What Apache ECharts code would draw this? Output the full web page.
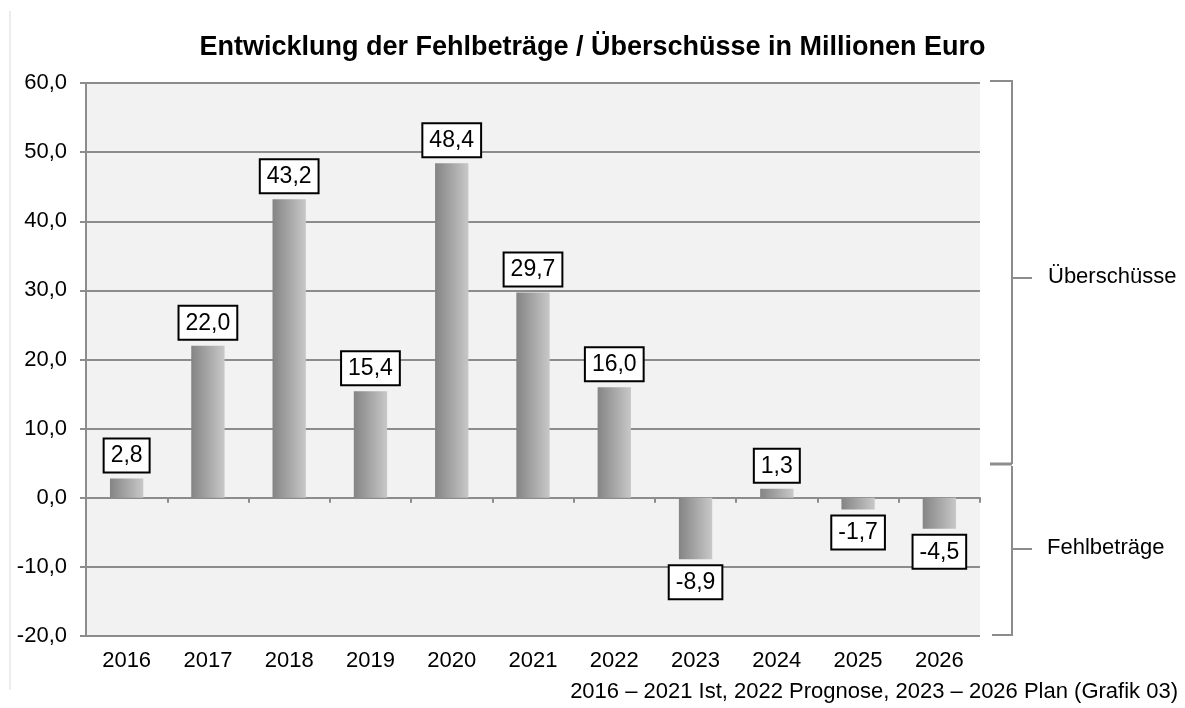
<!DOCTYPE html>
<html>
<head>
<meta charset="utf-8">
<script src="https://cdn.jsdelivr.net/npm/echarts@6/dist/echarts.min.js"></script>
<style>
  html, body { margin: 0; padding: 0; background: #fff; }
  #chart { width: 1185px; height: 708px; }
</style>
</head>
<body>
<div id="chart"></div>
<script>
const years = ['2016', '2017', '2018', '2019', '2020', '2021', '2022', '2023', '2024', '2025', '2026']
const saldo = [2.8, 22.0, 43.2, 15.4, 48.4, 29.7, 16.0, -8.9, 1.3, -1.7, -4.5]
const titleText = 'Entwicklung der Fehlbeträge / Überschüsse in Millionen Euro'
const footText = '2016 – 2021 Ist, 2022 Prognose, 2023 – 2026 Plan (Grafik 03)'

const fmt = v => v.toFixed(1).replace('.', ',')
const font = 'Liberation Sans, Arial, sans-serif'
const gridGray = '#8c8c8c'

const chart = echarts.init(document.getElementById('chart'))

const seriesData = saldo.map(v => ({
  value: v,
  label: { position: v >= 0 ? 'top' : 'bottom' }
}))

chart.setOption({
  backgroundColor: '#fff',
  animation: false,
  title: {
    text: titleText,
    left: 'center',
    top: 29,
    textStyle: { fontFamily: font, fontSize: 27, fontWeight: 'bold', color: '#000' }
  },
  grid: {
    left: 86,
    right: 205,
    top: 83,
    bottom: 72,
    show: true,
    backgroundColor: '#f2f2f2',
    borderWidth: 0
  },
  xAxis: [{
    // zero line with tick marks
    type: 'category',
    data: years,
    position: 'bottom',
    axisLine: { onZero: true, lineStyle: { color: gridGray, width: 2 } },
    axisTick: { show: true, length: 5, lineStyle: { color: gridGray, width: 2 } },
    axisLabel: { show: false }
  }, {
    // year labels at the bottom
    type: 'category',
    data: years,
    position: 'bottom',
    axisLine: { show: false, onZero: false },
    axisTick: { show: false },
    axisLabel: { fontFamily: font, fontSize: 22, color: '#000', margin: 14 }
  }],
  yAxis: {
    type: 'value',
    min: -20,
    max: 60,
    interval: 10,
    axisLine: { show: true, lineStyle: { color: gridGray, width: 2 } },
    axisTick: { show: true, length: 6, lineStyle: { color: gridGray, width: 2 } },
    axisLabel: { fontFamily: font, fontSize: 22, color: '#000', margin: 19, formatter: fmt },
    splitLine: { lineStyle: { color: gridGray, width: 2 } }
  },
  series: [{
    type: 'bar',
    data: seriesData,
    barWidth: '41%',
    itemStyle: {
      color: new echarts.graphic.LinearGradient(0, 0, 1, 0, [
        { offset: 0, color: '#848484' },
        { offset: 1, color: '#c8c8c8' }
      ])
    },
    label: {
      show: true,
      distance: 7,
      formatter: p => fmt(p.value),
      fontFamily: font,
      fontSize: 23,
      lineHeight: 25,
      color: '#000',
      backgroundColor: '#fff',
      borderColor: '#000',
      borderWidth: 2,
      padding: [4, 6, 3, 6]
    }
  }],
  graphic: [
    // left frame edge
    { type: 'line', shape: { x1: 10, y1: 11, x2: 10, y2: 690 }, style: { stroke: '#d9d9d9', lineWidth: 1 } },
    // Überschüsse bracket
    { type: 'polyline', shape: { points: [[990, 81], [1012, 81], [1012, 464]] }, style: { stroke: '#8c8c8c', lineWidth: 2, fill: null } },
    { type: 'line', shape: { x1: 990, y1: 464, x2: 1012, y2: 464 }, style: { stroke: '#8c8c8c', lineWidth: 3 } },
    { type: 'line', shape: { x1: 1012, y1: 278, x2: 1032, y2: 278 }, style: { stroke: '#8c8c8c', lineWidth: 2 } },
    { type: 'text', left: 1048, top: 266, style: { text: 'Überschüsse', font: '22px ' + font, fill: '#000' } },
    // Fehlbeträge bracket
    { type: 'polyline', shape: { points: [[1012, 466], [1012, 635], [992, 635]] }, style: { stroke: '#8c8c8c', lineWidth: 2, fill: null } },
    { type: 'line', shape: { x1: 1012, y1: 549, x2: 1032, y2: 549 }, style: { stroke: '#8c8c8c', lineWidth: 2 } },
    { type: 'text', left: 1047, top: 537, style: { text: 'Fehlbeträge', font: '22px ' + font, fill: '#000' } },
    // footnote
    { type: 'text', right: 7, top: 681, style: { text: footText, font: '22px ' + font, fill: '#000' } }
  ]
})
</script>
</body>
</html>
